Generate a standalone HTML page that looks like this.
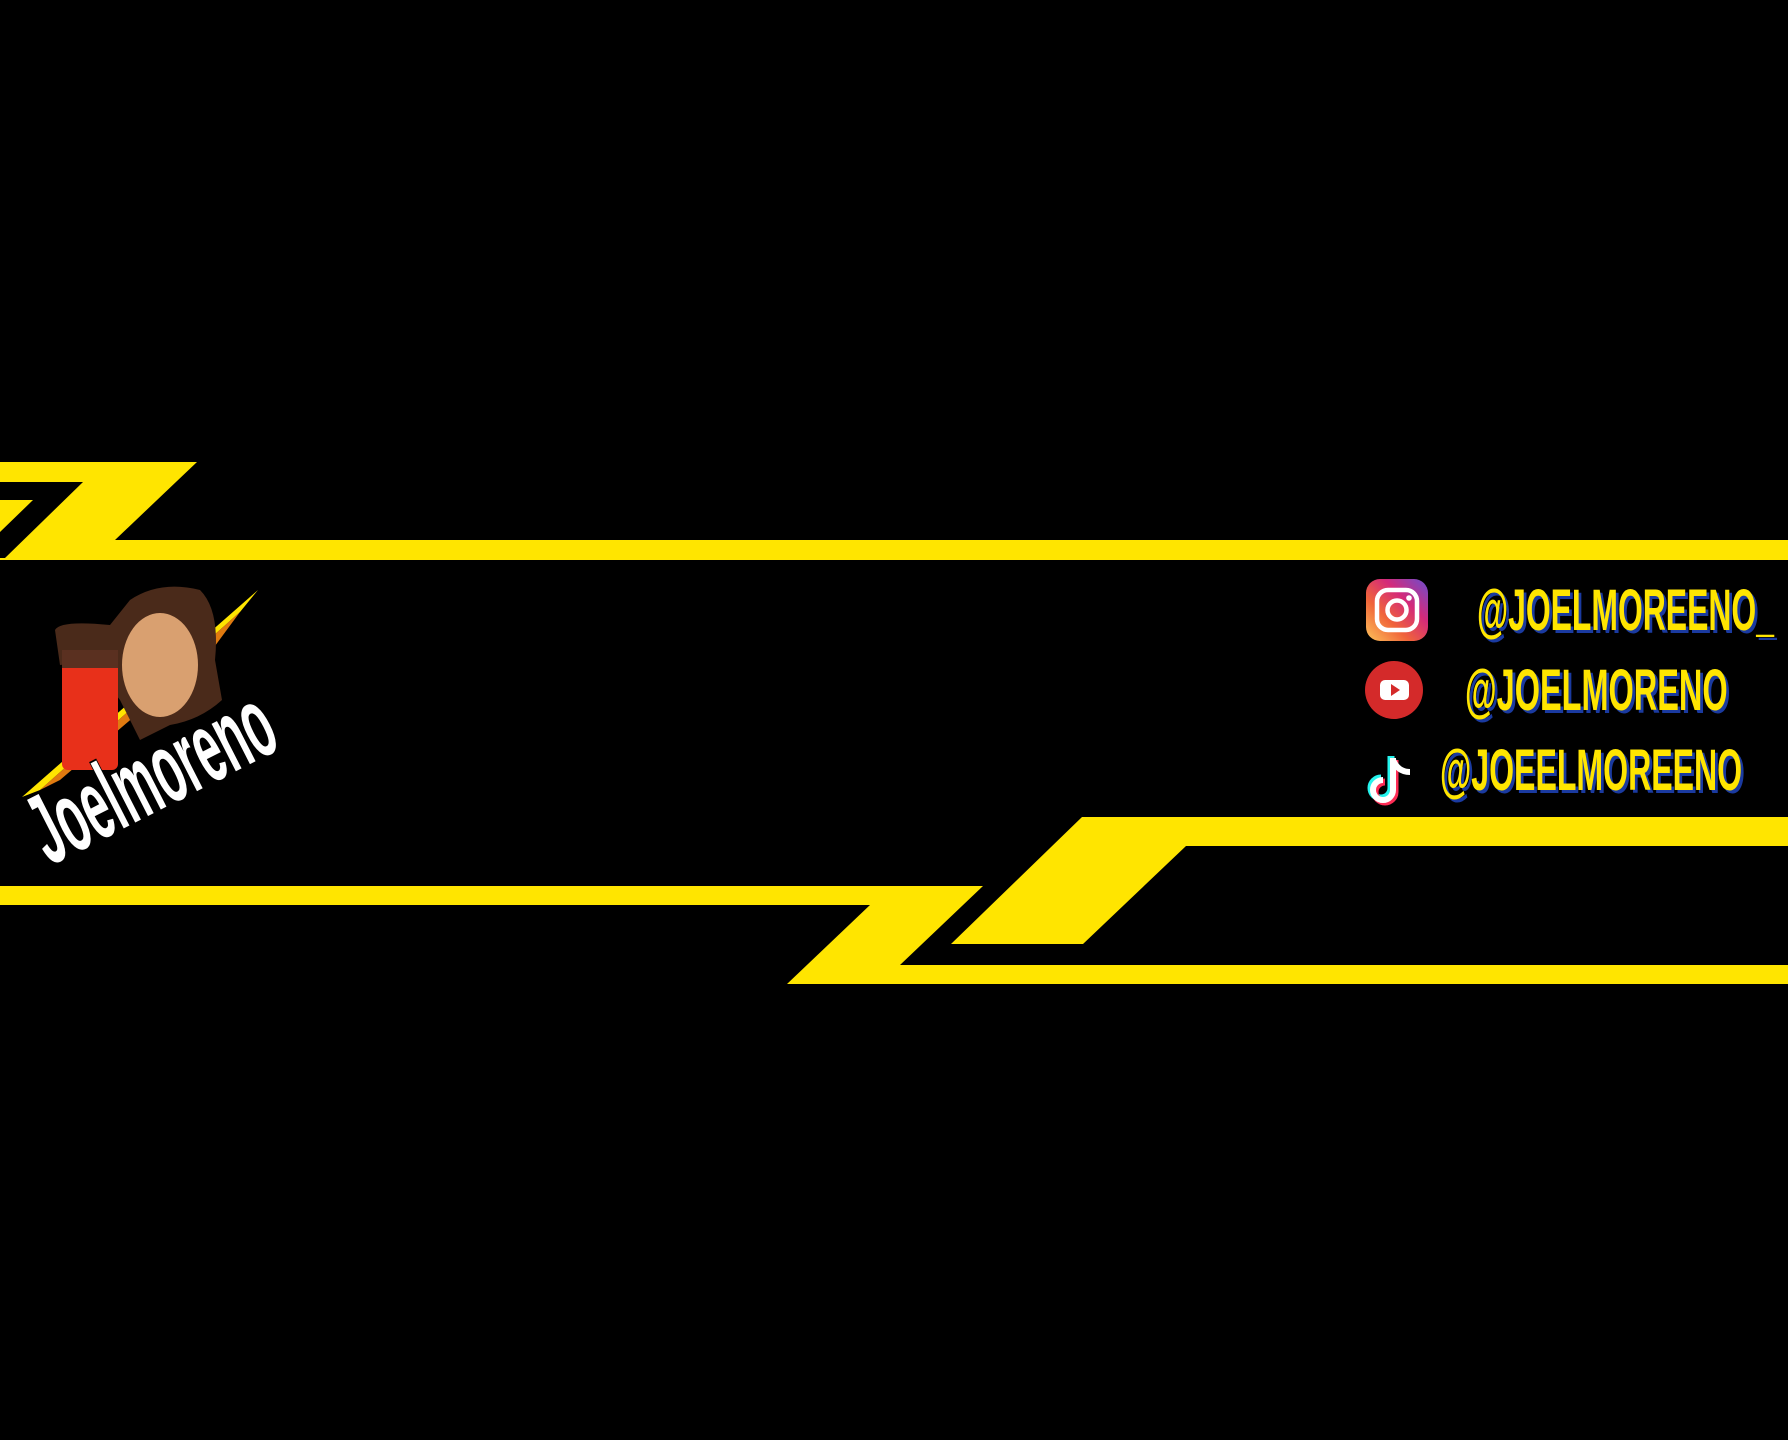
<!DOCTYPE html>
<html><head><meta charset="utf-8"><style>
html,body{margin:0;padding:0;background:#000;}
svg{display:block}
</style></head><body>
<svg width="1788" height="1440" viewBox="0 0 1788 1440" xmlns="http://www.w3.org/2000/svg">
<rect width="1788" height="1440" fill="#000"/>
<!-- top band -->
<polygon points="0,462 197,462 115,540 1788,540 1788,560 0,560" fill="#ffe500"/>
<polygon points="0,482 83,482 5,558 0,558" fill="#000"/>
<polygon points="0,500 33,500 0,532" fill="#ffe500"/>
<!-- bottom band -->
<polygon points="0,886 983,886 900,965 1788,965 1788,984 787,984 870,905 0,905" fill="#ffe500"/>
<polygon points="1082,817 1788,817 1788,846 1186,846 1083,944 951,944" fill="#ffe500"/>

<!-- logo -->
<polygon points="22,797 258,590 240,612 40,790" fill="#ffe500"/>
<polygon points="40,790 240,612 212,650 60,780" fill="#e07a10"/>
<path d="M55,630 Q60,620 110,625 L130,600 Q160,580 200,590 Q220,610 215,660 L222,700 Q200,720 170,725 L140,740 L120,700 Q90,660 60,665 Z" fill="#4a2a1a"/>
<ellipse cx="160" cy="665" rx="38" ry="52" fill="#d9a070"/>
<rect x="62" y="650" width="56" height="120" rx="6" fill="#e8301a"/>
<rect x="62" y="650" width="56" height="18" fill="#5a3020"/>
<g transform="translate(50,866) rotate(-27) scale(0.55,1.2)">
<text x="0" y="0" font-family="'Liberation Sans',sans-serif" font-weight="bold" font-size="84" fill="#fff" stroke="#000" stroke-width="3" paint-order="stroke">Joelmoreno</text>
</g>

<!-- instagram -->
<defs>
<linearGradient id="ig" x1="0" y1="1" x2="1" y2="0">
<stop offset="0" stop-color="#fdc45a"/><stop offset="0.35" stop-color="#f0643a"/><stop offset="0.65" stop-color="#d42a7a"/><stop offset="1" stop-color="#6a4ed0"/>
</linearGradient>
</defs>
<rect x="1366" y="579" width="62" height="62" rx="14" fill="url(#ig)"/>
<rect x="1377" y="590" width="40" height="40" rx="11" fill="none" stroke="#fff" stroke-width="4.5"/>
<circle cx="1397" cy="610" r="9.5" fill="none" stroke="#fff" stroke-width="4.5"/>
<circle cx="1409" cy="598" r="2.8" fill="#fff"/>
<!-- youtube -->
<circle cx="1394" cy="690" r="29" fill="#d42a2a"/>
<rect x="1380" y="680" width="29" height="20" rx="5" fill="#fff"/>
<polygon points="1391,684 1391,696 1400,690" fill="#d42a2a"/>
<!-- tiktok -->
<path d="M1393,758 L1393,790 A10,10 0 1 1 1383,780" fill="none" stroke="#25f4ee" stroke-width="7" transform="translate(-2,-2)"/>
<path d="M1393,758 L1393,790 A10,10 0 1 1 1383,780" fill="none" stroke="#fe2c55" stroke-width="7" transform="translate(2,2)"/>
<path d="M1393,758 L1393,790 A10,10 0 1 1 1383,780 M1393,760 Q1398,772 1410,772" fill="none" stroke="#fff" stroke-width="6"/>

<!-- handles -->
<g font-family="'Liberation Sans',sans-serif" font-weight="bold" font-size="58">
<g transform="translate(1477,630) scale(0.55,1)">
<text x="5" y="3" fill="#1a3aa0">@JOELMOREENO_</text>
<text x="0" y="0" fill="#ffe500">@JOELMOREENO_</text>
</g>
<g transform="translate(1465,710) scale(0.56,1)">
<text x="5" y="3" fill="#1a3aa0">@JOELMORENO</text>
<text x="0" y="0" fill="#ffe500">@JOELMORENO</text>
</g>
<g transform="translate(1440,790) scale(0.553,1)">
<text x="5" y="3" fill="#1a3aa0">@JOEELMOREENO</text>
<text x="0" y="0" fill="#ffe500">@JOEELMOREENO</text>
</g>
</g>
</svg>
</body></html>
